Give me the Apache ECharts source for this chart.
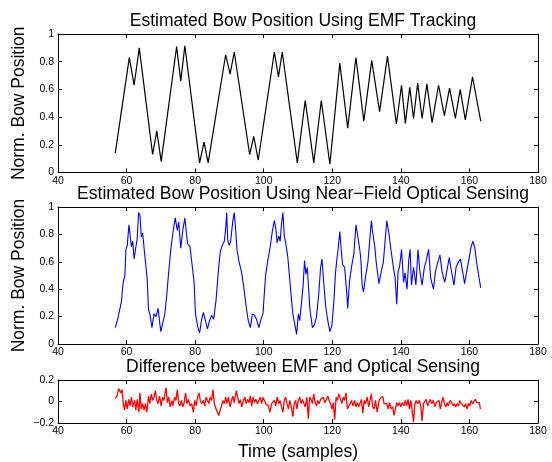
<!DOCTYPE html>
<html>
<head>
<meta charset="utf-8">
<script src="https://cdn.jsdelivr.net/npm/echarts@6/dist/echarts.min.js"></script>
<style>html,body{margin:0;padding:0;background:#fff}#c{width:552px;height:462px}</style>
</head>
<body>
<div id="c"></div>
<script>
// ---- data (x in samples, y values) ----
var titles = ['Estimated Bow Position Using EMF Tracking',
              'Estimated Bow Position Using Near\u2212Field Optical Sensing',
              'Difference between EMF and Optical Sensing'];
var yName = 'Norm. Bow Position';
var xName = 'Time (samples)';
var xRange = [40, 180, 20];
var posRange = [0, 1, 0.2];
var diffRange = [-0.2, 0.2, 0.2];

var emfSeries = [
 [56.7,0.14],[60.8,0.83],[62.2,0.63],[63.7,0.90],[67.6,0.13],[68.8,0.30],[70.1,0.08],
 [74.6,0.91],[75.8,0.66],[77.0,0.915],[81.3,0.07],[82.6,0.22],[83.8,0.07],
 [88.9,0.85],[90.2,0.71],[91.4,0.87],[95.9,0.13],[97.1,0.26],[98.4,0.09],
 [103.1,0.87],[104.3,0.69],[105.4,0.87],[109.8,0.07],[112.1,0.52],[114.6,0.07],
 [116.8,0.52],[119.3,0.06],[122.2,0.79],[124.5,0.32],[126.9,0.83],[129.2,0.37],
 [131.5,0.81],[133.8,0.44],[136.1,0.84],[138.7,0.35],[140.2,0.63],[141.3,0.355],
 [142.6,0.615],[143.7,0.39],[144.9,0.645],[146.2,0.39],[147.6,0.64],[149.1,0.36],
 [151.0,0.63],[152.7,0.41],[154.2,0.61],[155.9,0.39],[157.3,0.60],[158.8,0.38],
 [160.9,0.69],[163.3,0.37]
];

var opticalSeries = [
 [56.7,0.12],[57.4,0.18],[57.9,0.17],[58.5,0.31],[59.0,0.45],[59.5,0.50],[59.8,0.69],
 [60.2,0.72],[60.7,0.87],[61.0,0.88],[61.4,0.71],[61.8,0.75],[62.2,0.62],[62.6,0.69],
 [63.1,0.77],[63.5,0.96],[63.9,0.94],[64.3,0.78],[64.7,0.81],[65.3,0.65],[66.0,0.48],
 [66.4,0.25],[66.8,0.22],[67.4,0.12],[68.0,0.22],[68.6,0.20],[69.2,0.26],[69.6,0.17],
 [70.0,0.09],[70.7,0.17],[71.1,0.21],[71.7,0.35],[72.3,0.53],[72.9,0.69],[73.5,0.81],
 [74.2,0.92],[74.8,0.83],[75.2,0.89],[75.8,0.70],[76.4,0.83],[77.0,0.92],[77.4,0.92],
 [77.8,0.73],[78.5,0.71],[79.1,0.58],[79.7,0.45],[80.1,0.22],[80.7,0.13],[81.3,0.08],
 [81.9,0.18],[82.4,0.23],[83.0,0.17],[83.6,0.11],[84.2,0.17],[84.8,0.21],[85.4,0.18],
 [86.1,0.32],[86.7,0.51],[87.3,0.67],[87.9,0.72],[88.5,0.75],[88.9,0.84],[89.2,0.96],
 [89.5,0.76],[89.9,0.72],[90.3,0.74],[91.0,0.90],[91.4,0.96],[91.8,0.84],[92.2,0.69],
 [92.8,0.60],[93.5,0.53],[94.1,0.43],[94.9,0.27],[95.5,0.17],[96.1,0.12],[96.7,0.22],
 [97.3,0.21],[97.9,0.18],[98.6,0.12],[99.2,0.18],[99.8,0.22],[100.2,0.38],[100.6,0.51],
 [101.2,0.61],[101.9,0.71],[102.5,0.82],[103.1,0.90],[103.5,0.85],[103.9,0.74],[104.4,0.79],
 [104.8,0.75],[105.2,0.88],[105.6,0.96],[106.0,0.79],[106.4,0.74],[107.0,0.64],[107.4,0.53],
 [108.0,0.35],[108.5,0.22],[109.1,0.14],[109.6,0.07],[110.1,0.22],[110.5,0.17],[111.1,0.32],
 [111.5,0.43],[111.9,0.61],[112.3,0.51],[112.7,0.56],[113.1,0.40],[113.5,0.25],[114.2,0.12],
 [114.8,0.14],[115.4,0.20],[116.0,0.35],[116.6,0.56],[117.0,0.62],[117.4,0.48],[118.1,0.27],
 [118.7,0.17],[119.3,0.09],[119.9,0.14],[120.5,0.32],[120.9,0.51],[121.3,0.61],[121.7,0.69],
 [122.2,0.82],[122.6,0.69],[123.0,0.58],[123.6,0.56],[124.2,0.38],[124.5,0.26],[125.0,0.45],
 [125.6,0.56],[126.3,0.66],[126.9,0.87],[127.3,0.81],[127.9,0.71],[128.3,0.63],[128.7,0.43],
 [129.1,0.38],[129.7,0.49],[130.4,0.60],[131.0,0.78],[131.4,0.90],[131.8,0.81],[132.4,0.71],
 [132.8,0.60],[133.6,0.44],[134.3,0.53],[134.9,0.60],[135.5,0.78],[135.9,0.90],[136.5,0.81],
 [137.1,0.69],[137.7,0.58],[138.3,0.49],[138.8,0.29],[139.2,0.53],[139.6,0.56],[140.2,0.69],
 [140.8,0.45],[141.2,0.52],[141.8,0.40],[142.3,0.61],[142.7,0.69],[143.1,0.43],[143.7,0.56],
 [144.4,0.43],[145.0,0.69],[145.6,0.52],[146.2,0.43],[146.8,0.55],[147.4,0.61],[148.1,0.69],
 [148.7,0.48],[149.5,0.40],[150.1,0.53],[150.8,0.60],[151.4,0.65],[152.0,0.53],[152.8,0.45],
 [153.4,0.53],[154.1,0.63],[154.7,0.54],[155.5,0.43],[156.1,0.56],[156.8,0.60],[157.4,0.62],
 [158.0,0.53],[158.6,0.44],[159.2,0.53],[159.8,0.61],[160.4,0.70],[161.0,0.75],[161.6,0.70],
 [162.0,0.61],[162.7,0.50],[163.3,0.41]
];

var diffSeries = [
 [56.7,0.03],[57.2,0.05],[57.7,0.12],[58.3,0.08],[58.7,0.11],[59.0,-0.01],[59.4,-0.08],
 [59.8,0.01],[60.2,-0.07],[60.6,0.02],[61.0,-0.04],[61.4,0.04],[61.8,-0.05],[62.3,0.01],
 [62.7,-0.08],[63.1,0.02],[63.6,-0.10],[63.9,0.08],[64.3,-0.07],[64.7,-0.02],[65.1,-0.08],
 [65.5,-0.02],[65.9,-0.10],[66.4,0.05],[66.8,-0.02],[67.2,0.07],[67.6,0.01],[68.0,0.04],
 [68.4,0.10],[68.8,0.01],[69.2,-0.02],[69.6,0.05],[70.1,-0.04],[70.5,0.04],[70.9,0.01],
 [71.5,0.13],[71.9,-0.01],[72.3,0.04],[72.7,-0.05],[73.2,0.01],[73.5,-0.04],[74.0,0.04],
 [74.4,0.01],[74.8,0.11],[75.2,-0.02],[75.6,-0.04],[76.0,0.01],[76.4,-0.05],[76.8,-0.01],
 [77.2,0.08],[77.6,-0.02],[78.1,0.02],[78.5,-0.04],[79.0,-0.02],[79.5,-0.10],[79.9,0.01],
 [80.3,-0.04],[80.7,0.04],[81.1,0.08],[81.5,0.01],[81.9,-0.02],[82.4,0.01],[82.8,-0.04],
 [83.2,0.04],[83.6,0.01],[84.0,-0.02],[84.4,0.04],[84.8,0.01],[85.2,0.11],[85.6,-0.02],
 [86.1,-0.07],[86.5,-0.10],[86.9,-0.13],[87.3,-0.08],[87.7,-0.04],[88.1,0.01],[88.5,-0.02],
 [88.9,0.04],[89.3,-0.02],[89.7,0.04],[90.2,-0.05],[90.6,0.01],[91.0,0.05],[91.4,-0.01],
 [92.0,0.10],[92.4,0.04],[92.8,-0.02],[93.2,0.02],[93.6,-0.05],[94.1,0.01],[94.5,0.04],
 [94.9,-0.02],[95.3,0.02],[95.7,-0.01],[96.1,0.05],[96.5,-0.04],[96.9,0.04],[97.3,-0.01],
 [97.7,0.02],[98.2,-0.02],[98.6,0.01],[99.0,0.04],[99.4,-0.02],[99.8,0.04],[100.2,0.01],
 [100.6,-0.02],[101.0,-0.01],[101.4,-0.04],[101.8,-0.10],[102.3,-0.02],[102.7,-0.01],
 [103.1,0.01],[103.5,-0.04],[103.9,0.04],[104.4,-0.02],[104.8,0.01],[105.2,-0.05],
 [105.6,-0.10],[106.0,0.01],[106.4,0.04],[106.8,-0.02],[107.2,-0.07],[107.6,0.01],
 [108.0,-0.04],[108.5,-0.14],[108.9,-0.02],[109.3,0.01],[109.7,-0.07],[110.1,0.01],
 [110.5,0.04],[110.9,-0.02],[111.3,0.02],[111.7,0.01],[112.1,-0.05],[112.6,0.04],
 [113.0,-0.16],[113.4,0.04],[113.8,0.02],[114.2,-0.02],[114.6,0.07],[115.0,-0.01],
 [115.4,-0.04],[115.8,0.01],[116.2,-0.02],[116.6,0.02],[117.0,0.01],[117.4,0.04],
 [117.8,-0.01],[118.3,0.02],[118.7,0.05],[119.1,0.01],[119.5,-0.02],[119.9,-0.07],
 [120.3,-0.01],[120.7,-0.17],[121.1,0.04],[121.5,0.01],[121.9,0.07],[122.3,0.08],
 [122.8,-0.02],[123.2,0.04],[123.6,0.01],[124.0,0.08],[124.4,-0.07],[124.8,-0.08],
 [125.2,-0.02],[125.6,0.01],[126.0,-0.04],[126.5,0.01],[126.9,-0.05],[127.3,-0.01],
 [127.7,-0.05],[128.1,-0.04],[128.5,0.02],[128.9,-0.11],[129.3,0.01],[129.7,-0.02],
 [130.2,0.04],[130.6,-0.05],[131.0,0.01],[131.4,0.07],[131.8,-0.05],[132.2,-0.07],
 [132.6,0.01],[133.1,-0.10],[133.5,-0.02],[133.8,0.02],[134.3,0.01],[134.7,0.05],
 [135.1,-0.02],[135.5,-0.01],[135.9,-0.02],[136.3,-0.07],[136.7,-0.01],[137.2,-0.07],
 [137.6,-0.05],[138.0,-0.13],[138.4,-0.07],[138.8,-0.01],[139.2,-0.04],[139.6,-0.01],
 [140.0,-0.05],[140.4,-0.01],[140.9,-0.04],[141.3,0.01],[141.7,-0.04],[142.1,0.02],
 [142.5,-0.07],[142.9,0.01],[143.3,-0.08],[143.7,-0.19],[144.1,-0.02],[144.5,0.01],
 [144.9,-0.02],[145.4,0.01],[145.8,-0.04],[146.2,-0.18],[146.6,-0.02],[147.0,-0.01],
 [147.4,0.02],[147.8,-0.04],[148.2,-0.01],[148.6,0.02],[149.0,-0.02],[149.5,0.01],
 [149.9,-0.05],[150.3,-0.01],[150.7,-0.02],[151.1,0.01],[151.5,-0.07],[151.9,-0.01],
 [152.3,0.04],[152.7,-0.02],[153.1,-0.05],[153.5,-0.01],[153.8,-0.04],[154.4,0.01],
 [154.8,-0.01],[155.2,-0.04],[155.6,-0.02],[156.0,-0.05],[156.4,-0.02],[156.8,-0.04],
 [157.2,0.01],[157.6,-0.02],[158.0,-0.01],[158.5,-0.05],[158.9,-0.02],[159.3,-0.07],
 [159.7,-0.02],[160.1,-0.04],[160.5,0.01],[160.9,-0.02],[161.3,-0.01],[161.7,0.02],
 [162.1,-0.01],[162.5,-0.02],[162.9,-0.01],[163.2,-0.07]
];

// ---- chart ----
var FONT = 'Liberation Sans, Arial, Helvetica, sans-serif';
var L = 58, R = 14;
var grids = [
  {left: L, right: R, top: 34, height: 138.5},
  {left: L, right: R, top: 207, height: 137},
  {left: L, right: R, top: 380, height: 47.5}
];
var cx = L + (552 - L - R) / 2;

function fmt(v) { return (v < 0 ? '\u2212' + (-v) : String(+v.toFixed(2))); }
function mkX(gi, pos, showLabel, name) {
  return {
    type: 'value', gridIndex: gi, position: pos,
    min: xRange[0], max: xRange[1], interval: xRange[2],
    axisLine: {show: true, onZero: false, lineStyle: {color: '#000', width: 1}},
    axisTick: {show: true, inside: true, length: 4, lineStyle: {color: '#000'}},
    axisLabel: {show: showLabel, color: '#000', fontSize: 10.5, fontFamily: FONT, margin: 3},
    splitLine: {show: false},
    name: name || '', nameLocation: 'middle', nameGap: 20,
    nameTextStyle: {color: '#000', fontSize: 17.5, fontFamily: FONT}
  };
}
function mkY(gi, pos, rng, showLabel, name) {
  return {
    type: 'value', gridIndex: gi, position: pos,
    min: rng[0], max: rng[1], interval: rng[2],
    axisLine: {show: true, onZero: false, lineStyle: {color: '#000', width: 1}},
    axisTick: {show: true, inside: true, length: 4, lineStyle: {color: '#000'}},
    axisLabel: {show: showLabel, color: '#000', fontSize: 10.5, fontFamily: FONT, margin: 4, formatter: fmt},
    splitLine: {show: false},
    name: name || '', nameLocation: 'middle', nameRotate: 90, nameGap: 18,
    nameTextStyle: {color: '#000', fontSize: 17.5, fontFamily: FONT}
  };
}

var xAxes = [], yAxes = [];
for (var g = 0; g < 3; g++) {
  xAxes.push(mkX(g, 'bottom', true, g === 2 ? xName : ''));
  xAxes.push(mkX(g, 'top', false));
  var rng = g === 2 ? diffRange : posRange;
  yAxes.push(mkY(g, 'left', rng, true, g === 2 ? '' : yName));
  yAxes.push(mkY(g, 'right', rng, false));
}

var titleTops = [7, 180, 353];
var option = {
  animation: false,
  backgroundColor: '#fff',
  title: titles.map(function (t, i) {
    return {text: t, left: cx, top: titleTops[i], textAlign: 'center',
      textStyle: {color: '#000', fontSize: 17.5, fontWeight: 'normal', fontFamily: FONT}};
  }),
  grid: grids,
  xAxis: xAxes,
  yAxis: yAxes,
  series: [
    {type: 'line', xAxisIndex: 0, yAxisIndex: 0, data: emfSeries, showSymbol: false,
     lineStyle: {color: '#000', width: 1.2}, itemStyle: {color: '#000'}},
    {type: 'line', xAxisIndex: 2, yAxisIndex: 2, data: opticalSeries, showSymbol: false,
     lineStyle: {color: '#0000ff', width: 1.1}, itemStyle: {color: '#0000ff'}},
    {type: 'line', xAxisIndex: 4, yAxisIndex: 4, data: diffSeries, showSymbol: false,
     lineStyle: {color: '#ff0000', width: 1.3}, itemStyle: {color: '#ff0000'}}
  ]
};
var chart = echarts.init(document.getElementById('c'), null, {renderer: 'canvas'});
chart.setOption(option);
</script>
</body>
</html>
